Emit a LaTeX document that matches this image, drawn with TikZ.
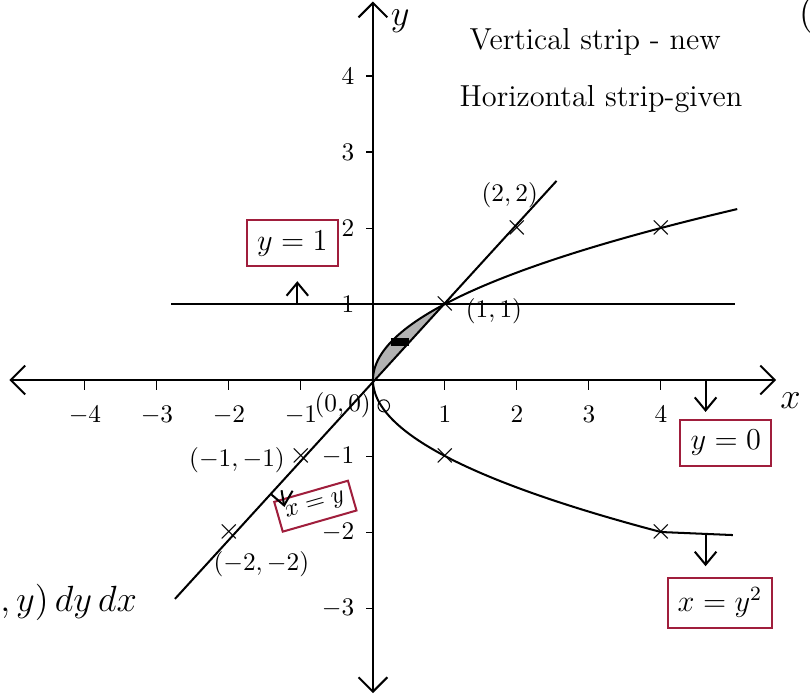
\documentclass[tikz,border=0pt]{standalone}
\usetikzlibrary{arrows.meta, positioning}
\definecolor{boxred}{RGB}{160,30,60}

\begin{document}
\begin{tikzpicture}[
  x=1cm, y=1.0556cm,
  axis/.style={thick, {Straight Barb[length=2mm,width=4mm]}-{Straight Barb[length=2mm,width=4mm]}},
  curve/.style={thick},
  tag/.style={
    draw=boxred, thick, inner sep=4pt,
    font=\large
  },
  arr/.style={-{Straight Barb[length=1.8mm,width=3mm]}, thick},
  cross/.style={inner sep=0pt, font=\large},
  pt/.style={font=\normalsize}
]
  \useasboundingbox (-5.18,-4.18) rectangle (6.07,5.0);

  % shaded region between x=y and x=y^2
  \fill[gray!60] plot[domain=0:1, samples=30] ({\x*\x},\x) -- cycle;
  \draw[line width=3pt] (0.25,0.5) -- (0.5,0.5);

  % axes
  \coordinate (xl) at (-5.05,0);
  \coordinate (xr) at (5.6,0);
  \coordinate (yb) at (0,-4.12);
  \coordinate (yt) at (0,4.98);
  \draw[axis] (xl) -- (xr);
  \draw[axis] (yb) -- (yt);
  \node (xlab) at (5.8,-0.27) {\Large $x$};
  \node (ylab) at (0.38,4.72) {\Large $y$};

  \foreach \i in {-4,-3,-2,-1,1,2,3,4}
    \draw (\i,0) -- (\i,-0.13) node[below=3pt, pt] {$\i$};
  \foreach \j in {-3,-2,-1,1,2,3,4}
    \draw (0,\j) -- (-0.1,\j) node[left=1pt, pt] {$\j$};

  % y = 1
  \coordinate (h1) at (-2.8,1);
  \coordinate (h2) at (5.03,1);
  \draw[curve] (h1) -- (h2);

  % x = y
  \coordinate (d1) at (-2.75,-2.88);
  \coordinate (d2) at (2.55,2.62);
  \draw[curve] (d1) -- (d2);

  % x = y^2
  \draw[curve] (5,-2.04) -- (4,-2)
    -- plot[domain=-2:2.25, samples=60, smooth] ({\x*\x},\x);

  % marked points
  \node[cross] (m11)   at (1,1)   {$\times$};
  \node[cross] (m22)   at (2,2)   {$\times$};
  \node[cross] (m42)   at (4,2)   {$\times$};
  \node[cross] (mm11)  at (-1,-1) {$\times$};
  \node[cross] (mm22)  at (-2,-2) {$\times$};
  \node[cross] (m1m1)  at (1,-1)  {$\times$};
  \node[cross] (m4m2)  at (4,-2)  {$\times$};

  \node[pt] (p22)  at (1.9,2.43)    {$(2,2)$};
  \node[pt] (p11)  at (1.68,0.9)    {$(1,1)$};
  \node[pt, anchor=east] (pm11) at (-1.1,-1.05) {$(-1,-1)$};
  \node[pt] (pm22) at (-1.55,-2.42) {$(-2,-2)$};
  \node[pt] (p00)  at (-0.42,-0.33) {$(0,0)$};
  \draw (0.15,-0.34) circle (0.08);

  % boxed labels
  \node[tag] (ty1)  at (-1.12,1.8)  {$y=1$};
  \node[tag] (ty0)  at (4.9,-0.83)  {$y=0$};
  \node[tag, font=\normalsize, inner sep=3pt, rotate=16] (txy) at (-0.8,-1.66) {$x=y$};
  \node[tag] (txy2) at (4.82,-2.93) {$x=y^2$};

  \coordinate (a1) at (-1.05,1);
  \coordinate (a0) at (4.62,0);
  \coordinate (axy) at (-1.27,-1.45);
  \coordinate (axy2) at (4.62,-2.03);
  \draw[arr] (a1) -- ++(0,0.3);
  \draw[arr] (a0) -- ++(0,-0.42);
  \draw[arr] (axy) -- ++(0.04,-0.22);
  \draw[arr] (axy2) -- ++(0,-0.42);

  % notes
  \node[font=\large, anchor=west] (note1) at (1.22,4.45) {Vertical strip - new};
  \node[font=\large, anchor=west] (note2) at (1.08,3.7) {Horizontal strip-given};
  \node[font=\Large, anchor=west] (intg) at (-5.3,-2.92) {$,y)\,dy\,dx$};
  \node[font=\Large] (corner) at (6.02,4.8) {(};
\end{tikzpicture}
\end{document}
